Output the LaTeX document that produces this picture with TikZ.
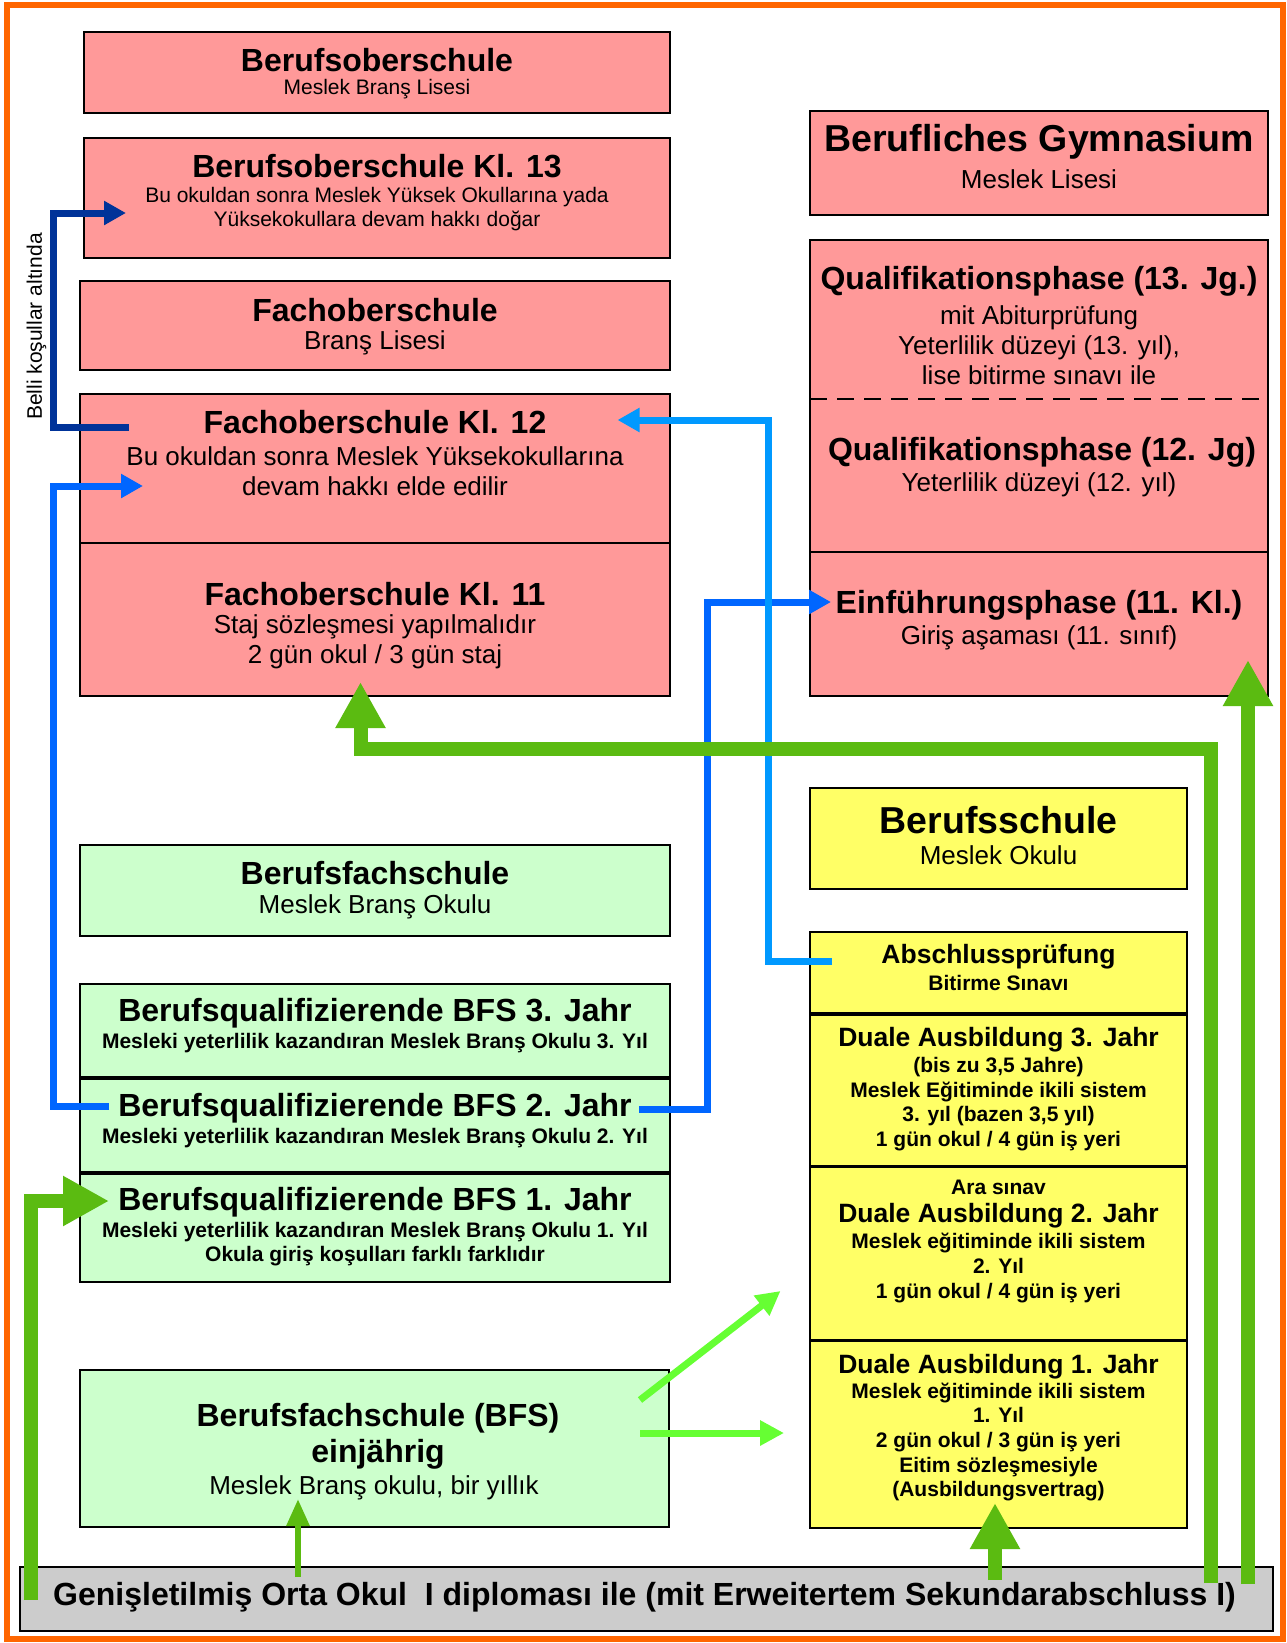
\documentclass[tikz,border=0pt]{standalone}
\usepackage{fontspec}
\setmainfont{Liberation Sans}
\usetikzlibrary{arrows.meta}
\definecolor{orng}{HTML}{FF6600}
\definecolor{pinkc}{HTML}{FF9999}
\definecolor{grnc}{HTML}{CCFFCC}
\definecolor{yelc}{HTML}{FFFF66}
\definecolor{grayc}{HTML}{CCCCCC}
\definecolor{dblue}{HTML}{003399}
\definecolor{mblue}{HTML}{0066FF}
\definecolor{lblue}{HTML}{0099FF}
\definecolor{dgreen}{HTML}{5BBB11}
\definecolor{lgreen}{HTML}{66FF33}
\newcommand\myfs[2]{\fontsize{#1}{#2}\selectfont}
\newcommand\mkbox[6]{\node[#2, minimum width={(#5)-(#3)}, minimum height={(#6)-(#4)}] (#1) at ({((#3)+(#5))/2},{((#4)+(#6))/2}) {};}
\begin{document}
\begin{tikzpicture}[x=1pt,y=-1pt,
  bx/.style={draw=black, line width=2.5pt, inner sep=0pt, outer sep=0pt},
  pinkbx/.style={bx, fill=pinkc},
  grnbx/.style={bx, fill=grnc},
  yelbx/.style={bx, fill=yelc},
  graybx/.style={bx, fill=grayc},
  ttl/.style={font=\bfseries\myfs{32}{36}, align=center, inner sep=0pt},
  big/.style={font=\bfseries\myfs{37.5}{44}, align=center, inner sep=0pt},
  dtl/.style={font=\bfseries\myfs{26.5}{30}, align=center, inner sep=0pt},
  body/.style={font=\myfs{26}{30}, align=center, inner sep=0pt},
  smallr/.style={font=\myfs{21}{24}, align=center, inner sep=0pt},
  smallb/.style={font=\bfseries\myfs{21}{24.7}, align=center, inner sep=0pt},
  dbarrow/.style={draw=dblue, line width=7pt, -{Triangle[length=22pt,width=23pt]}},
  mbarrow/.style={draw=mblue, line width=7pt, -{Triangle[length=22pt,width=23pt]}},
  lbarrow/.style={draw=lblue, line width=7pt, -{Triangle[length=22pt,width=23pt]}},
  garrow/.style={draw=dgreen, line width=14pt, -{Triangle[length=46pt,width=47pt]}},
  gthin/.style={draw=dgreen, line width=6pt, -{Triangle[length=27pt,width=22pt]}},
  lgarrow/.style={draw=lgreen, line width=7pt, -{Triangle[length=24pt,width=24pt]}}
]
\useasboundingbox (0,0) rectangle (1287,1643);
\fill[white] (0,0) rectangle (1287,1643);
\draw[orng, line width=6pt] (7,5) rectangle (1283,1639);

% pink boxes
\mkbox{bos}{pinkbx}{84}{32}{670}{113}
\mkbox{bosk}{pinkbx}{84}{138}{670}{258}
\mkbox{fos}{pinkbx}{80}{281}{670}{370}
\mkbox{fosa}{pinkbx}{80}{394}{670}{543}
\mkbox{fosb}{pinkbx}{80}{543}{670}{696}
\mkbox{bg}{pinkbx}{810}{111}{1268}{215}
\mkbox{qph}{pinkbx}{810}{240}{1268}{552}
\mkbox{einf}{pinkbx}{810}{552}{1268}{696}
\coordinate (dashy) at (0,398.5);
\draw[line width=2pt, dash pattern=on 17pt off 10pt] (qph.west |- dashy) -- (qph.east |- dashy);

% green boxes
\mkbox{bfs}{grnbx}{80}{845}{670}{936}
\mkbox{bfsc}{grnbx}{80}{984}{670}{1077}
\mkbox{bfsb}{grnbx}{80}{1079}{670}{1172}
\mkbox{bfsa}{grnbx}{80}{1174}{670}{1282}
\mkbox{bfse}{grnbx}{80}{1370}{669}{1527}

% yellow boxes
\mkbox{bs}{yelbx}{810}{788}{1187}{889}
\mkbox{absch}{yelbx}{810}{932}{1187}{1013}
\mkbox{dc}{yelbx}{810}{1015}{1187}{1166}
\mkbox{db}{yelbx}{810}{1167}{1187}{1340}
\mkbox{da}{yelbx}{810}{1341}{1187}{1528}

% bottom bar
\mkbox{bar}{graybx}{20}{1567}{1273}{1631}

% arrows
\coordinate (dbS) at (129,427.5); \coordinate (dbE) at (126,213);
\draw[dbarrow] (dbS) -- ++(-75.4,0) |- (dbE);
\coordinate (b1S) at (109,1106); \coordinate (b1E) at (143,486);
\draw[mbarrow] (b1S) -- ++(-55.4,0) |- (b1E);
\coordinate (b2S) at (639,1109); \coordinate (b2E) at (831,602);
\draw[mbarrow] (b2S) -- ++(68,0) |- (b2E);
\coordinate (lbS) at (832,961); \coordinate (lbE) at (617.5,420);
\draw[lbarrow] (lbS) -- ++(-64,0) |- (lbE);

\coordinate (g1S) at (30.5,1600); \coordinate (g1E) at (109,1201);
\draw[garrow] (g1S) |- (g1E);
\coordinate (g2S) at (1210.5,1583); \coordinate (g2E) at (360.5,682);
\draw[garrow] (g2S) -- ++(0,-834) -| (g2E);
\coordinate (g3S) at (1248,1584); \coordinate (g3E) at (1248,660);
\draw[garrow] (g3S) -- (g3E);
\coordinate (g4S) at (995,1580); \coordinate (g4E) at (995,1503);
\draw[garrow] (g4S) -- (g4E);
\coordinate (g5S) at (298,1577); \coordinate (g5E) at (298,1499);
\draw[gthin] (g5S) -- (g5E);
\coordinate (l1S) at (640,1400); \coordinate (l1E) at (780.5,1291);
\draw[lgarrow] (l1S) -- (l1E);
\coordinate (l2S) at (640,1433); \coordinate (l2E) at (784,1433);
\draw[lgarrow] (l2S) -- (l2E);

% texts
\node[ttl] (bos-t) at (377,60) {Berufsoberschule};
\node[smallr] (bos-s) at (377,89) {Meslek Branş Lisesi};
\node[ttl] (bosk-t) at (377,166) {Berufsoberschule Kl. 13};
\node[smallr] (bosk-s) at (377,209) {Bu okuldan sonra Meslek Yüksek Okullarına yada\\Yüksekokullara devam hakkı doğar};
\node[ttl] (fos-t) at (375,310) {Fachoberschule};
\node[body] (fos-s) at (375,343) {Branş Lisesi};
\node[ttl] (fosa-t) at (375,422.5) {Fachoberschule Kl. 12};
\node[body] (fosa-s) at (375,471) {Bu okuldan sonra Meslek Yüksekokullarına\\devam hakkı elde edilir};
\node[ttl] (fosb-t) at (375,594) {Fachoberschule Kl. 11};
\node[body] (fosb-s) at (375,642) {Staj sözleşmesi yapılmalıdır\\2 gün okul / 3 gün staj};
\node[smallr, rotate=90] (cond) at (36.6,326.5) {Belli koşullar altında};

\node[big] (bg-t) at (1039,142) {Berufliches Gymnasium};
\node[body] (bg-s) at (1039,179) {Meslek Lisesi};
\node[ttl] (q13-t) at (1039,281) {Qualifikationsphase (13. Jg.)};
\node[body] (q13-s) at (1039,345) {mit Abiturprüfung\\Yeterlilik düzeyi (13. yıl),\\lise bitirme sınavı ile};
\node[ttl] (q12-t) at (1042,452) {Qualifikationsphase (12. Jg)};
\node[body] (q12-s) at (1039,485) {Yeterlilik düzeyi (12. yıl)};
\node[ttl] (einf-t) at (1039,605) {Einführungsphase (11. Kl.)};
\node[body] (einf-s) at (1039,638) {Giriş aşaması (11. sınıf)};

\node[ttl] (bfs-t) at (375,873) {Berufsfachschule};
\node[body] (bfs-s) at (375,907) {Meslek Branş Okulu};
\node[ttl] (bfsc-t) at (375,1013) {Berufsqualifizierende BFS 3. Jahr};
\node[smallb] (bfsc-s) at (375,1043) {Mesleki yeterlilik kazandıran Meslek Branş Okulu 3. Yıl};
\node[ttl] (bfsb-t) at (375,1108) {Berufsqualifizierende BFS 2. Jahr};
\node[smallb] (bfsb-s) at (375,1138) {Mesleki yeterlilik kazandıran Meslek Branş Okulu 2. Yıl};
\node[ttl] (bfsa-t) at (375,1202) {Berufsqualifizierende BFS 1. Jahr};
\node[smallb] (bfsa-s) at (375,1244) {Mesleki yeterlilik kazandıran Meslek Branş Okulu 1. Yıl\\Okula giriş koşulları farklı farklıdır};
\node[ttl] (bfse-t) at (378,1436) {Berufsfachschule (BFS)\\einjährig};
\node[body] (bfse-s) at (374,1488) {Meslek Branş okulu, bir yıllık};

\node[big] (bs-t) at (998.5,820) {Berufsschule};
\node[body] (bs-s) at (998.5,855) {Meslek Okulu};
\node[dtl] (ab-t) at (998.5,957) {Abschlussprüfung};
\node[smallb] (ab-s) at (998.5,983) {Bitirme Sınavı};
\node[dtl] (dc-t) at (998.5,1040) {Duale Ausbildung 3. Jahr};
\node[smallb] (dc-s) at (998.5,1104) {(bis zu 3,5 Jahre)\\Meslek Eğitiminde ikili sistem\\3. yıl (bazen 3,5 yıl)\\1 gün okul / 4 gün iş yeri};
\node[smallb] (db-a) at (998.5,1187) {Ara sınav};
\node[dtl] (db-t) at (998.5,1216) {Duale Ausbildung 2. Jahr};
\node[smallb] (db-s) at (998.5,1268) {Meslek eğitiminde ikili sistem\\2. Yıl\\1 gün okul / 4 gün iş yeri};
\node[dtl] (da-t) at (998.5,1367) {Duale Ausbildung 1. Jahr};
\node[smallb] (da-s) at (998.5,1442) {Meslek eğitiminde ikili sistem\\1. Yıl\\2 gün okul / 3 gün iş yeri\\Eitim sözleşmesiyle\\(Ausbildungsvertrag)};

\node[ttl] (bar-t) at (644.5,1597) {Genişletilmiş Orta Okul\ \ I diploması ile (mit Erweitertem Sekundarabschluss I)};
\end{tikzpicture}
\end{document}
